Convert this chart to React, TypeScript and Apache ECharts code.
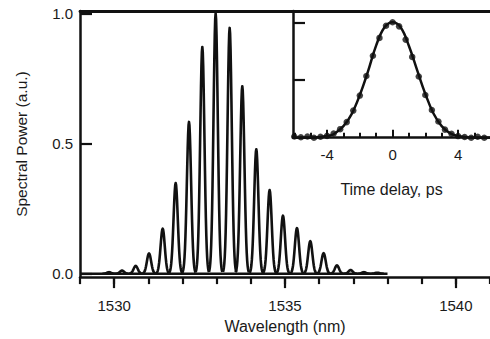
import React, { useEffect, useRef } from "react";
import * as echarts from "echarts";

// Main spectrum: comb line positions (nm) and peak heights (a.u.)
const PEAK_WL = [1529.85, 1530.23, 1530.63, 1531.02, 1531.42, 1531.8, 1532.19, 1532.58, 1532.97, 1533.38, 1533.75, 1534.16, 1534.55, 1534.94, 1535.35, 1535.74, 1536.13, 1536.52, 1536.92, 1537.31, 1537.7];
const PEAK_H = [0.006, 0.012, 0.03, 0.078, 0.173, 0.348, 0.583, 0.871, 1.0, 0.944, 0.72, 0.478, 0.321, 0.223, 0.175, 0.125, 0.079, 0.032, 0.014, 0.006, 0.004];
const BASE_WL = [1529, 1538];
const BASE_V = [0, 0];

const X_MAJOR = [1530, 1535, 1540];
const X_MINOR = [1529, 1530, 1531, 1532, 1533, 1534, 1535, 1536, 1537, 1538, 1539, 1540, 1541];
const Y_TICKS = [0, 0.5, 1.0];

// Inset: autocorrelation (fit curve and measured points)
const FIT_T = [-6.1, -5, -4.5, -4, -3.6, -3, -2.5, -2, -1.5, -1, -0.5, 0, 0.5, 1, 1.5, 2, 2.5, 3, 3.5, 4, 4.5, 5, 6.1];
const FIT_V = [0, 0, 0.004, 0.014, 0.03, 0.1, 0.205, 0.37, 0.575, 0.8, 0.955, 1.0, 0.955, 0.795, 0.585, 0.38, 0.21, 0.1, 0.04, 0.014, 0.004, 0, 0];
const DOT_T = [-6.0, -5.6, -5.2, -4.8, -4.4, -4.0, -3.6, -3.2, -2.8, -2.4, -2.0, -1.6, -1.2, -0.8, -0.4, 0.0, 0.4, 0.8, 1.2, 1.6, 2.0, 2.4, 2.8, 3.2, 3.6, 4.0, 4.4, 4.8, 5.2, 5.6];
const DOT_V = [0.01, 0.004, 0.01, 0.0, 0.008, 0.016, 0.036, 0.074, 0.135, 0.235, 0.365, 0.535, 0.71, 0.865, 0.97, 1.0, 0.965, 0.85, 0.7, 0.53, 0.37, 0.24, 0.14, 0.07, 0.034, 0.014, 0.006, 0.0, 0.008, 0.0];

const INSET_X_MAJOR = [-4, 0, 4];
const INSET_X_MINOR = [-6, -5, -4, -3, -2, -1, 0, 1, 2, 3, 4, 5];
const INSET_Y_TICKS = [0.5, 1.0];

const INK = "#111";
const TXT = "#1a1a1a";
const FONT = "'Liberation Sans', Arial, sans-serif";

export default function App() {
  const ref = useRef<HTMLDivElement>(null);
  useEffect(() => {
    if (!ref.current) return;
    const chart = echarts.init(ref.current, undefined, { renderer: "svg" });
    const SIG = 0.062;
    const HALF = 0.195;
    const STEP = 0.013;
    const peaks = PEAK_WL.map((w, i) => [w, PEAK_H[i]]);
    const option: any = {
      animation: false,
      backgroundColor: "#fff",
      textStyle: { fontFamily: FONT },
      grid: [
        { left: 80, top: 11, right: 0, bottom: 56.3, containLabel: false },
        { left: 293, top: 11, right: 0, bottom: 201.3, show: true, backgroundColor: "#fff", borderWidth: 0, z: 5 },
      ],
      xAxis: [
        {
          type: "value", gridIndex: 0, min: 1529, max: 1541, position: "bottom",
          axisLine: { show: true, onZero: false, lineStyle: { color: INK, width: 2.5 } },
          axisTick: { show: true, customValues: X_MAJOR, length: 11, inside: false, lineStyle: { color: INK, width: 2.2 } },
          axisLabel: { customValues: X_MAJOR, fontSize: 15, color: TXT, margin: 21, fontFamily: FONT, formatter: (v: number) => String(v) },
          splitLine: { show: false },
          name: "Wavelength (nm)", nameLocation: "middle", nameGap: 40,
          nameTextStyle: { fontSize: 16, color: TXT, fontFamily: FONT },
        },
        {
          type: "value", gridIndex: 0, min: 1529, max: 1541, position: "bottom",
          axisLine: { show: false, onZero: false },
          axisTick: { show: true, customValues: X_MINOR, length: 7, inside: false, lineStyle: { color: INK, width: 2.2 } },
          axisLabel: { show: false },
          splitLine: { show: false },
        },
        {
          type: "value", gridIndex: 0, min: 1529, max: 1541, position: "top",
          axisLine: { show: true, onZero: false, lineStyle: { color: INK, width: 2.8 } },
          axisTick: { show: false }, axisLabel: { show: false }, splitLine: { show: false },
          z: 20,
        },
        {
          type: "value", gridIndex: 1, min: -6.08, max: 5.95, position: "bottom",
          axisLine: { show: true, onZero: false, lineStyle: { color: INK, width: 2.5 } },
          axisTick: { show: true, customValues: INSET_X_MAJOR, length: 8, inside: true, lineStyle: { color: INK, width: 2 } },
          axisLabel: { customValues: INSET_X_MAJOR, fontSize: 15, color: TXT, margin: 9, fontFamily: FONT },
          splitLine: { show: false },
          name: "Time delay, ps", nameLocation: "middle", nameGap: 44,
          nameTextStyle: { fontSize: 16, color: TXT, fontFamily: FONT },
          z: 6,
        },
        {
          type: "value", gridIndex: 1, min: -6.08, max: 5.95, position: "bottom",
          axisLine: { show: false, onZero: false },
          axisTick: { show: true, customValues: INSET_X_MINOR, length: 5, inside: true, lineStyle: { color: INK, width: 2 } },
          axisLabel: { show: false }, splitLine: { show: false }, z: 6,
        },
      ],
      yAxis: [
        {
          type: "value", gridIndex: 0, min: -0.013, max: 1.009, position: "left",
          axisLine: { show: true, onZero: false, lineStyle: { color: INK, width: 2.5 } },
          axisTick: { show: true, customValues: Y_TICKS, length: 12, inside: true, lineStyle: { color: INK, width: 2.2 } },
          axisLabel: { customValues: Y_TICKS, fontSize: 15, color: TXT, margin: 7, fontFamily: FONT, formatter: (v: number) => v.toFixed(1) },
          splitLine: { show: false },
          name: "Spectral Power (a.u.)", nameLocation: "middle", nameGap: 51, nameRotate: 90,
          nameTextStyle: { fontSize: 15.5, color: TXT, fontFamily: FONT },
        },
        {
          type: "value", gridIndex: 1, min: 0, max: 1.098, position: "left",
          axisLine: { show: true, onZero: false, lineStyle: { color: INK, width: 2.5 } },
          axisTick: { show: true, customValues: INSET_Y_TICKS, length: 12, inside: true, lineStyle: { color: INK, width: 2.2 } },
          axisLabel: { show: false }, splitLine: { show: false }, z: 6,
        },
      ],
      series: [
        {
          type: "line", xAxisIndex: 0, yAxisIndex: 0,
          data: BASE_WL.map((w, i) => [w, BASE_V[i]]),
          showSymbol: false, symbol: "none",
          lineStyle: { color: INK, width: 2.4 },
          z: 2,
        },
        {
          type: "custom", xAxisIndex: 0, yAxisIndex: 0,
          data: peaks,
          encode: { x: 0, y: 1 },
          renderItem: (params: any, api: any) => {
            const lam = api.value(0);
            const h = api.value(1);
            const pts: number[][] = [];
            for (let d = -HALF; d <= HALF + 1e-9; d += STEP) {
              const v = h * Math.exp(-(d * d) / (2 * SIG * SIG));
              pts.push(api.coord([lam + d, v]));
            }
            return {
              type: "polyline",
              shape: { points: pts, smooth: 0 },
              style: { fill: "none", stroke: INK, lineWidth: 2.6, lineJoin: "round" },
            };
          },
          z: 3,
        },
        {
          type: "line", xAxisIndex: 3, yAxisIndex: 1,
          data: FIT_T.map((t, i) => [t, FIT_V[i]]),
          smooth: 0.4, showSymbol: false, symbol: "none",
          lineStyle: { color: INK, width: 2.5 },
          z: 7,
        },
        {
          type: "scatter", xAxisIndex: 3, yAxisIndex: 1,
          data: DOT_T.map((t, i) => [t, DOT_V[i]]),
          symbol: "circle", symbolSize: 6.5,
          itemStyle: { color: INK },
          z: 8,
        },
      ],
    };
    chart.setOption(option);
    return () => chart.dispose();
  }, []);
  return <div ref={ref} style={{ position: "absolute", left: 0, top: 0, width: 490, height: 339 }} />;
}
